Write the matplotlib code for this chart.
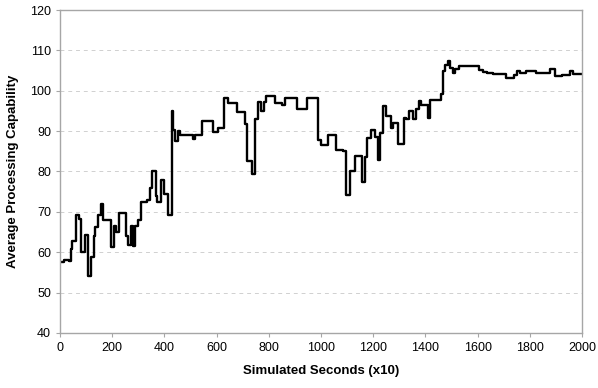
import matplotlib
matplotlib.use("Agg")
import matplotlib.pyplot as plt

# step breakpoints (simulated seconds x10) and capability level from that point on
sim_time = [0, 15, 34, 41, 47, 62, 73, 82, 95, 107, 118, 129, 135, 146, 156, 165,
            197, 207, 216, 226, 254, 261, 271, 280, 289, 300, 311, 333, 343, 352,
            366, 372, 387, 397, 415, 428, 434, 441, 452, 460, 508, 517, 546, 588,
            606, 627, 645, 678, 707, 716, 735, 748, 759, 769, 780, 789, 822, 850,
            861, 908, 946, 988, 1002, 1028, 1056, 1084, 1097, 1110, 1129, 1158,
            1168, 1177, 1190, 1207, 1219, 1228, 1237, 1248, 1267, 1276, 1296,
            1318, 1326, 1338, 1354, 1364, 1374, 1383, 1409, 1418, 1460, 1466,
            1476, 1485, 1495, 1504, 1514, 1527, 1606, 1622, 1638, 1660, 1710,
            1738, 1751, 1761, 1786, 1822, 1878, 1895, 1924, 1953, 1965, 2000]
capability = [57.7, 58.1, 57.9, 60.7, 62.8, 69.2, 68.3, 60.0, 64.3, 54.0, 58.8,
              64.0, 66.2, 69.2, 72.0, 68.1, 61.2, 66.4, 65.1, 69.8, 64.1, 61.7,
              66.6, 61.5, 66.4, 67.9, 72.4, 73.0, 76.0, 80.0, 74.0, 72.4, 78.0,
              74.5, 69.3, 95.0, 90.2, 87.5, 90.0, 89.0, 88.0, 89.0, 92.4, 89.7,
              90.7, 98.2, 97.0, 94.8, 91.8, 82.7, 79.4, 93.1, 97.2, 95.0, 97.2,
              98.7, 96.9, 96.4, 98.1, 95.6, 98.2, 87.8, 86.5, 89.0, 85.4, 85.1,
              74.3, 80.2, 83.9, 77.4, 83.7, 88.3, 90.2, 88.5, 82.8, 89.6, 96.2,
              93.7, 90.8, 92.0, 86.8, 93.3, 93.0, 95.0, 93.0, 95.4, 97.5, 96.4,
              93.3, 97.8, 99.3, 104.9, 106.5, 107.3, 105.6, 104.4, 105.3, 106.2,
              105.1, 104.6, 104.4, 104.1, 103.1, 103.9, 105.0, 104.5, 104.8,
              104.5, 105.3, 103.7, 103.9, 104.8, 104.1, 104.1]

plt.rcParams['font.family'] = ['Liberation Sans', 'DejaVu Sans']

fig = plt.figure(figsize=(5.98, 3.88), dpi=100)
ax = fig.add_axes([0.1003, 0.1418, 0.8729, 0.8324])

ax.step(sim_time, capability, where='post', color='black', linewidth=1.7)

ax.set_xlim(0, 2000)
ax.set_ylim(40, 120)
ax.set_xticks(range(0, 2001, 200))
ax.set_yticks(range(40, 121, 10))
ax.grid(axis='y', color='#d0d0d0', linestyle=(0, (4, 4)), linewidth=0.7)
ax.set_axisbelow(True)

for side in ['left', 'bottom', 'right', 'top']:
    ax.spines[side].set_color('#a6a6a6')
    ax.spines[side].set_linewidth(1.0)

ax.tick_params(axis='both', colors='#a6a6a6', labelcolor='black', labelsize=9,
               length=3, width=0.8)

ax.set_xlabel('Simulated Seconds (x10)', fontsize=9.5, fontweight='bold', labelpad=8)
ax.set_ylabel('Average Processing Capability', fontsize=9.5, fontweight='bold', labelpad=8)

fig.savefig('out.png', dpi=100)
